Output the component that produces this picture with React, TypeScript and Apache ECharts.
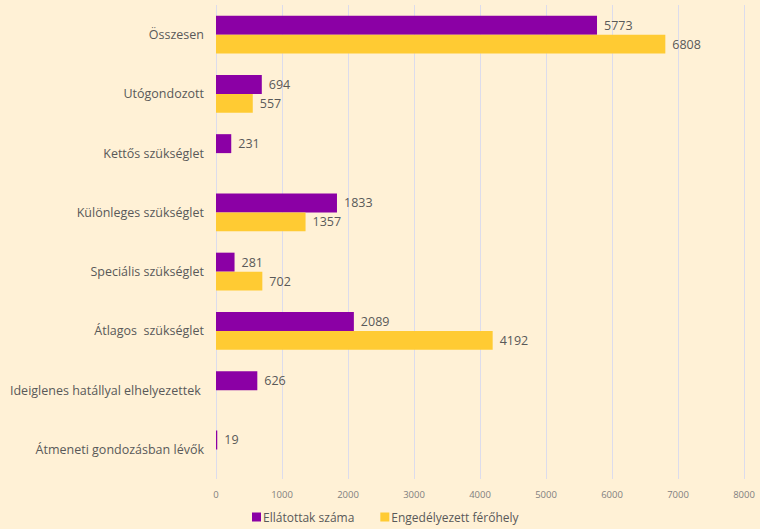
import React, { useEffect, useRef } from "react";
import * as echarts from "echarts";

const categories = [
  "Átmeneti gondozásban lévők",
  "Ideiglenes hatállyal elhelyezettek ",
  "Átlagos  szükséglet",
  "Speciális szükséglet",
  "Különleges szükséglet",
  "Kettős szükséglet",
  "Utógondozott",
  "Összesen",
];
const ellatottak = [19, 626, 2089, 281, 1833, 231, 694, 5773];
const engedelyezett = [null, null, 4192, 702, 1357, null, 557, 6808];
const seriesNames = ["Ellátottak száma", "Engedélyezett férőhely"];

export default function App() {
  const ref = useRef<HTMLDivElement>(null);
  useEffect(() => {
    if (!ref.current) return;
    document.body.style.margin = "0";
    const chart = echarts.init(ref.current, null, { renderer: "svg" });
    const font = "'Open Sans', 'Noto Sans', sans-serif";
    const lbl = {
      show: true,
      position: "right",
      distance: 7,
      color: "#595959",
      fontSize: 12.5,
      fontFamily: font,
    };
    chart.setOption({
      animation: false,
      backgroundColor: "#FFF1D6",
      grid: { left: 216, right: 16, top: 5, bottom: 50 },
      legend: {
        top: 511,
        left: 252,
        itemWidth: 9,
        itemHeight: 9,
        itemGap: 26,
        padding: 0,
        icon: "rect",
        textStyle: { color: "#595959", fontSize: 12, fontFamily: font, padding: [0, 0, 0, -3] },
        data: seriesNames,
      },
      xAxis: {
        type: "value",
        min: 0,
        max: 8000,
        interval: 1000,
        axisLine: { show: false },
        axisTick: { show: false },
        axisLabel: {
          color: "#7f7f7f",
          fontSize: 9.5,
          fontFamily: font,
          margin: 10,
          formatter: (v: number) => String(v),
        },
        splitLine: { lineStyle: { color: "#dcdcec", width: 1 } },
      },
      yAxis: {
        type: "category",
        data: categories,
        axisLine: { show: false },
        axisTick: { show: false },
        axisLabel: { color: "#595959", fontSize: 12.5, fontFamily: font, margin: 12 },
      },
      series: [
        {
          name: seriesNames[0],
          type: "bar",
          data: ellatottak,
          barGap: "0%",
          barCategoryGap: "36%",
          itemStyle: { color: "#8B00A5" },
          label: lbl,
        },
        {
          name: seriesNames[1],
          type: "bar",
          data: engedelyezett,
          barGap: "0%",
          barCategoryGap: "36%",
          itemStyle: { color: "#FFCB33" },
          label: lbl,
        },
      ],
    });
    return () => chart.dispose();
  }, []);
  return <div ref={ref} style={{ width: 760, height: 529 }} />;
}
